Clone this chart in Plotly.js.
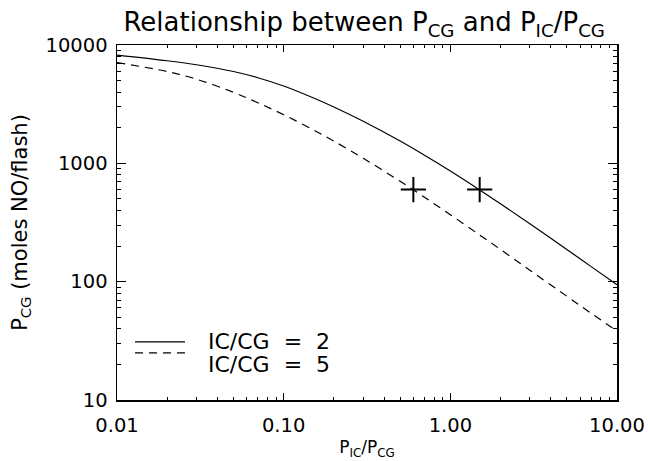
<!DOCTYPE html>
<html>
<head>
<meta charset="utf-8">
<script src="https://cdn.plot.ly/plotly-3.0.1.min.js"></script>
<style>html,body{margin:0;padding:0;background:#fff;}#chart{width:648px;height:461px;}</style>
</head>
<body>
<div id="chart"></div>
<script>
// P_IC/P_CG values
var xValues = [0.01, 0.02, 0.03, 0.05, 0.07, 0.1, 0.15, 0.2, 0.3, 0.5, 0.7, 1, 1.5, 2, 3, 5, 7, 10];
// P_CG (moles NO/flash) for IC/CG = 2
var pcgRatio2 = [8220, 7360, 6810, 5970, 5285, 4500, 3580, 2990, 2265, 1542, 1170, 861, 596, 455, 309, 187, 134, 94.2];
// P_CG (moles NO/flash) for IC/CG = 5
var pcgRatio5 = [7100, 5970, 5140, 3980, 3250, 2576, 1925, 1542, 1104, 705, 516, 368, 248, 187, 125, 75.3, 54, 38.3];
// marked points
var markX = [0.6, 1.5];
var markY = [600, 600];
var seriesNames = ['IC/CG  =  2', 'IC/CG  =  5'];
var xTickVals = [0.01, 0.1, 1, 10];
var xTickText = ['0.01', '0.10', '1.00', '10.00'];
var yTickVals = [10, 100, 1000, 10000];
var yTickText = ['10', '100', '1000', '10000'];

var FONT = 'DejaVu Sans, sans-serif';

var traces = [
  {x: xValues, y: pcgRatio2, type: 'scatter', mode: 'lines', name: seriesNames[0],
   line: {color: '#000', width: 1.2, shape: 'spline'}, showlegend: false},
  {x: xValues, y: pcgRatio5, type: 'scatter', mode: 'lines', name: seriesNames[1],
   line: {color: '#000', width: 1.2, dash: '8px,6px', shape: 'spline'}, showlegend: false},
  {x: markX, y: markY, type: 'scatter', mode: 'markers', showlegend: false,
   marker: {symbol: 'cross-thin-open', size: 18, color: '#000', line: {color: '#000', width: 2}}}
];

var axisCommon = {
  type: 'log', showgrid: false, zeroline: false, showline: true, linecolor: '#000', linewidth: 1.5,
  mirror: 'ticks', ticks: 'inside', tickcolor: '#000', tickwidth: 1.2,
  tickfont: {family: FONT, size: 19.5, color: '#000'}, tickmode: 'array',
  minor: {ticks: 'inside', dtick: 'D1', tickcolor: '#000', tickwidth: 1, showgrid: false}
};

var layout = {
  width: 648, height: 461,
  margin: {l: 117, r: 31, t: 45, b: 61, pad: 0},
  paper_bgcolor: '#fff', plot_bgcolor: '#fff',
  font: {family: FONT, color: '#000'},
  title: {text: 'Relationship between P<sub>CG</sub> and P<sub>IC</sub>/P<sub>CG</sub>',
          font: {family: FONT, size: 26, color: '#000'}, x: 0.562, xanchor: 'center', y: 0.952, yanchor: 'middle'},
  xaxis: Object.assign({}, axisCommon, {
    range: [-2, 1], tickvals: xTickVals, ticktext: xTickText, ticklen: 7,
    minor: Object.assign({}, axisCommon.minor, {ticklen: 3}),
    ticklabelstandoff: 7,
    title: {text: 'P<sub>IC</sub>/P<sub>CG</sub>', font: {family: FONT, size: 17, color: '#000'}, standoff: 5}
  }),
  yaxis: Object.assign({}, axisCommon, {
    range: [1, 4], tickvals: yTickVals, ticktext: yTickText, ticklen: 9,
    minor: Object.assign({}, axisCommon.minor, {ticklen: 4}),
    ticklabelstandoff: 4,
    title: {text: 'P<sub>CG</sub> (moles NO/flash)', font: {family: FONT, size: 21, color: '#000'}, standoff: 12}
  }),
  shapes: [
    {type: 'line', xref: 'paper', yref: 'paper', x0: 0.036, x1: 0.136, y0: 0.164, y1: 0.164,
     line: {color: '#000', width: 1.2}},
    {type: 'line', xref: 'paper', yref: 'paper', x0: 0.036, x1: 0.136, y0: 0.133, y1: 0.133,
     line: {color: '#000', width: 1.2, dash: '8px,6px'}}
  ],
  annotations: [
    {xref: 'paper', yref: 'paper', x: 0.178, y: 0.164, xanchor: 'left', yanchor: 'middle', showarrow: false,
     text: seriesNames[0], font: {family: FONT, size: 22, color: '#000'}},
    {xref: 'paper', yref: 'paper', x: 0.178, y: 0.099, xanchor: 'left', yanchor: 'middle', showarrow: false,
     text: seriesNames[1], font: {family: FONT, size: 22, color: '#000'}}
  ]
};

Plotly.newPlot('chart', traces, layout, {staticPlot: true, displayModeBar: false});
</script>
</body>
</html>
